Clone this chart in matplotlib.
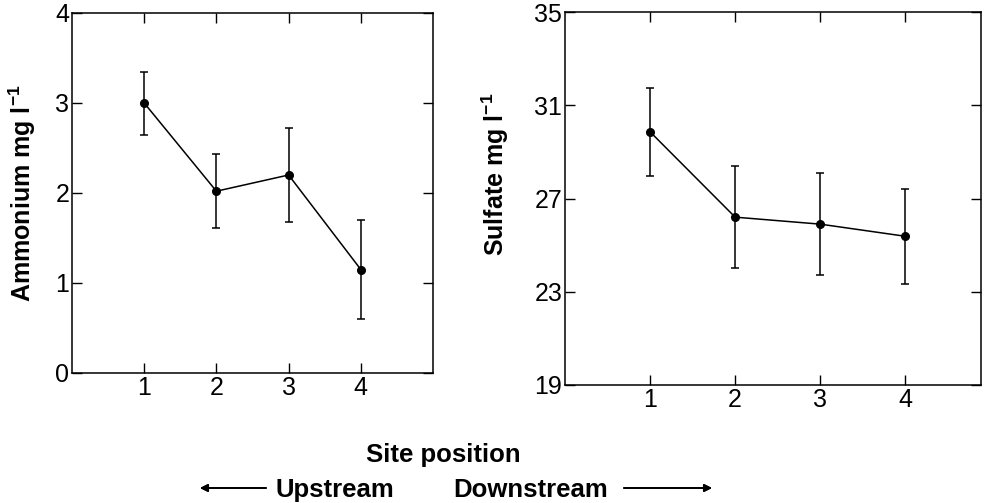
import matplotlib
matplotlib.use("Agg")
import matplotlib.pyplot as plt

plt.rcParams["font.family"] = ["Liberation Sans", "DejaVu Sans"]
plt.rcParams["mathtext.fontset"] = "custom"
plt.rcParams["mathtext.rm"] = "Liberation Sans"
plt.rcParams["mathtext.bf"] = "Liberation Sans:bold"
plt.rcParams["mathtext.default"] = "bf"

sites = [1, 2, 3, 4]
ammonium = [3.0, 2.02, 2.2, 1.15]
ammonium_err = [0.35, 0.41, 0.52, 0.55]
sulfate = [29.86, 26.2, 25.9, 25.38]
sulfate_err = [1.9, 2.18, 2.18, 2.03]

W, H = 984, 503
fig = plt.figure(figsize=(W / 100, H / 100), dpi=100)

def px(l, t, r, b):
    return [l / W, (H - b) / H, (r - l) / W, (b - t) / H]

ax1 = fig.add_axes(px(72, 13, 433, 373))
ax2 = fig.add_axes(px(565, 12, 981, 385))

for ax, y, err in [(ax1, ammonium, ammonium_err), (ax2, sulfate, sulfate_err)]:
    ax.errorbar(sites, y, yerr=err, color="black", lw=1.1, elinewidth=1.1,
                capsize=3, capthick=1.1, marker="o", ms=5.5)
    ax.tick_params(direction="in", top=True, right=True, length=7, width=1,
                   labelsize=18, pad=2)
    ax.set_xticks(sites)
    for s in ax.spines.values():
        s.set_linewidth(1.1)

ax1.set_xlim(0, 5.0)
ax1.set_ylim(0, 4)
ax1.set_yticks([0, 1, 2, 3, 4])
ax1.set_ylabel(r"Ammonium mg l$^{-1}$", fontsize=18, fontweight="bold")
ax1.yaxis.set_label_coords(-0.094, 0.50)

ax2.set_xlim(0, 4.89)
ax2.set_ylim(19, 35)
ax2.set_yticks([19, 23, 27, 31, 35])
ax2.set_ylabel(r"Sulfate mg l$^{-1}$", fontsize=18, fontweight="bold")
ax2.yaxis.set_label_coords(-0.13, 0.565)

fig.text(443 / W, 1 - 455 / H, "Site position", ha="center", va="center",
         fontsize=18.5, fontweight="bold")
fig.text(335 / W, 1 - 490 / H, "Upstream", ha="center", va="center",
         fontsize=18.5, fontweight="bold")
fig.text(531 / W, 1 - 490 / H, "Downstream", ha="center", va="center",
         fontsize=18.5, fontweight="bold")

arrow = dict(arrowstyle="-|>", color="black", lw=1.3, mutation_scale=11,
             shrinkA=0, shrinkB=0)
fig.add_artist(plt.annotate("", xy=(200 / W, 1 - 488 / H), xytext=(266 / W, 1 - 488 / H),
                            xycoords="figure fraction", arrowprops=arrow))
fig.add_artist(plt.annotate("", xy=(712 / W, 1 - 488 / H), xytext=(624 / W, 1 - 488 / H),
                            xycoords="figure fraction", arrowprops=arrow))

fig.savefig("out.png", dpi=100)
